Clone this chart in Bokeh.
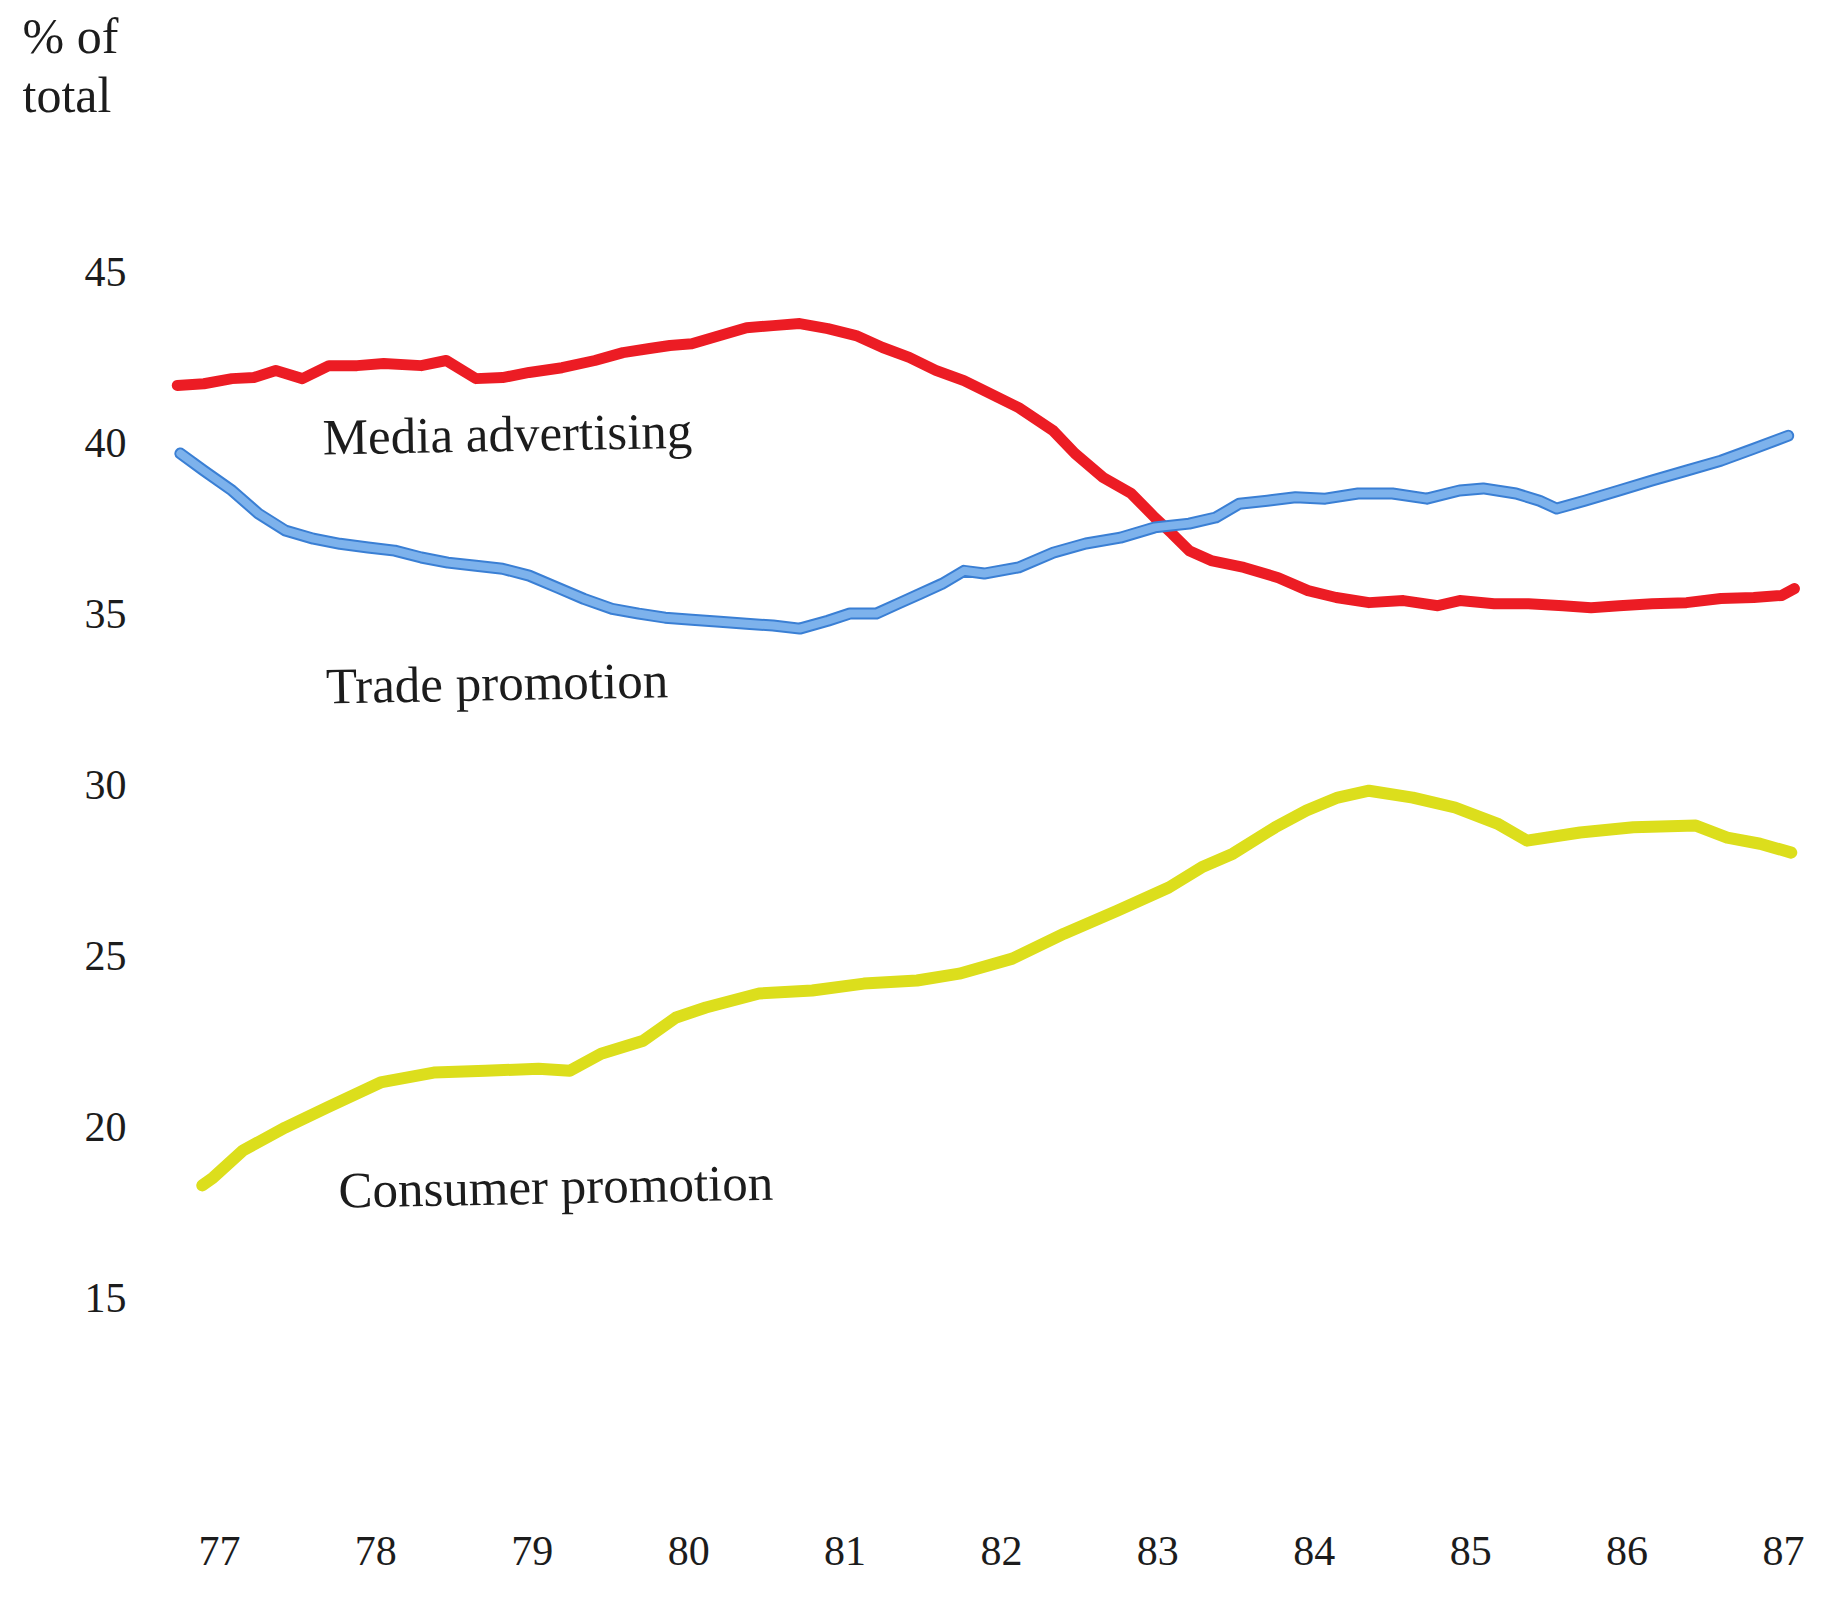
from bokeh.plotting import figure
from bokeh.models import FixedTicker, Title, Range1d
from bokeh.core.properties import value
from bokeh.embed import file_html
from bokeh.resources import INLINE

# ---------------- data ----------------
media_years = [76.73, 76.90, 77.08, 77.22, 77.36, 77.53, 77.70, 77.88, 78.05, 78.29,
               78.45, 78.64, 78.81, 78.98, 79.19, 79.40, 79.58, 79.75, 79.88, 80.02,
               80.20, 80.37, 80.54, 80.71, 80.89, 81.07, 81.24, 81.41, 81.58, 81.76,
               81.89, 82.11, 82.33, 82.47, 82.65, 82.83, 82.98, 83.09, 83.20, 83.34,
               83.55, 83.77, 83.96, 84.14, 84.35, 84.57, 84.79, 84.93, 85.15, 85.37,
               85.59, 85.77, 85.95, 86.16, 86.38, 86.60, 86.81, 86.99, 87.07]
media_pct = [41.69, 41.74, 41.89, 41.92, 42.13, 41.89, 42.27, 42.27, 42.33, 42.27,
             42.42, 41.89, 41.92, 42.07, 42.21, 42.42, 42.65, 42.77, 42.86, 42.91,
             43.15, 43.38, 43.44, 43.50, 43.35, 43.15, 42.80, 42.51, 42.13, 41.83,
             41.54, 41.04, 40.37, 39.70, 39.00, 38.53, 37.83, 37.36, 36.86, 36.57,
             36.37, 36.07, 35.69, 35.49, 35.34, 35.40, 35.25, 35.40, 35.31, 35.31,
             35.25, 35.19, 35.25, 35.31, 35.34, 35.46, 35.49, 35.55, 35.75]

trade_years = [76.75, 76.90, 77.08, 77.25, 77.42, 77.60, 77.77, 77.95, 78.12, 78.29,
               78.46, 78.64, 78.81, 78.98, 79.16, 79.33, 79.51, 79.68, 79.85, 80.02,
               80.20, 80.37, 80.54, 80.71, 80.89, 81.03, 81.20, 81.34, 81.48, 81.62,
               81.76, 81.89, 82.11, 82.33, 82.54, 82.76, 82.98, 83.20, 83.37, 83.52,
               83.70, 83.88, 84.07, 84.28, 84.50, 84.72, 84.93, 85.08, 85.29, 85.44,
               85.55, 85.73, 85.95, 86.16, 86.38, 86.60, 86.81, 87.03]
trade_pct = [39.70, 39.20, 38.62, 37.94, 37.45, 37.21, 37.06, 36.95, 36.86, 36.66,
             36.51, 36.42, 36.33, 36.13, 35.78, 35.45, 35.16, 35.02, 34.90, 34.84,
             34.78, 34.72, 34.67, 34.58, 34.81, 35.02, 35.02, 35.31, 35.60, 35.89,
             36.27, 36.19, 36.37, 36.80, 37.07, 37.24, 37.54, 37.65, 37.83, 38.23,
             38.32, 38.42, 38.38, 38.53, 38.53, 38.38, 38.62, 38.68, 38.53, 38.32,
             38.09, 38.32, 38.62, 38.91, 39.20, 39.49, 39.84, 40.22]

consumer_years = [76.89, 76.96, 77.15, 77.42, 77.69, 78.03, 78.37, 78.70, 79.04, 79.24,
                  79.44, 79.71, 79.92, 80.11, 80.45, 80.79, 81.12, 81.46, 81.73, 82.07,
                  82.40, 82.74, 83.07, 83.28, 83.48, 83.75, 83.95, 84.15, 84.35, 84.63,
                  84.90, 85.17, 85.36, 85.70, 86.04, 86.44, 86.64, 86.85, 87.05]
consumer_pct = [18.30, 18.53, 19.32, 19.99, 20.58, 21.31, 21.60, 21.65, 21.71, 21.65,
                22.15, 22.53, 23.21, 23.50, 23.91, 24.00, 24.20, 24.29, 24.49, 24.93,
                25.66, 26.33, 27.01, 27.60, 28.00, 28.77, 29.26, 29.64, 29.84, 29.64,
                29.35, 28.88, 28.38, 28.62, 28.77, 28.82, 28.47, 28.29, 28.03]

year_ticks = [77, 78, 79, 80, 81, 82, 83, 84, 85, 86, 87]
pct_ticks = [15, 20, 25, 30, 35, 40, 45]

series_names = ["Media advertising", "Trade promotion", "Consumer promotion"]

# ---------------- styling / layout ----------------
FONT = "Liberation Serif"
INK = "#1c1c1c"
RED = "#ec1c24"
BLUE_EDGE = "#3a7fd4"
BLUE_FILL = "#7db2ec"
YELLOW = "#dcde1c"

p = figure(width=1838, height=1599, output_backend="svg", toolbar_location=None,
           x_range=Range1d(76.559, 87.224), y_range=Range1d(12.01, 49.35),
           min_border_left=150, min_border_right=20, min_border_top=123,
           min_border_bottom=199, background_fill_color="white",
           border_fill_color="white")
p.outline_line_color = None
p.grid.visible = False

# unit caption: the figure's own title is the outer line, the added one sits nearer the frame
p.title.text = "% of"
p.title.text_font = FONT
p.title.text_font_size = "50px"
p.title.text_font_style = "normal"
p.title.text_color = INK
p.title.align = "left"
p.title.offset = -128
p.title.standoff = 0
p.add_layout(Title(text="total", text_font=FONT, text_font_size="50px",
                   text_font_style="normal", text_color=INK, align="left",
                   offset=-128, standoff=2), "above")

for ax in (p.xaxis[0], p.yaxis[0]):
    ax.axis_line_color = None
    ax.major_tick_line_color = None
    ax.minor_tick_line_color = None
    ax.major_tick_out = 0
    ax.major_tick_in = 0
    ax.minor_tick_out = 0
    ax.major_label_text_font = FONT
    ax.major_label_text_font_size = "42px"
    ax.major_label_text_color = INK

p.xaxis[0].ticker = FixedTicker(ticks=year_ticks)
p.xaxis[0].major_label_standoff = 136
p.yaxis[0].ticker = FixedTicker(ticks=pct_ticks)
p.yaxis[0].major_label_standoff = 24

# series
p.line(media_years, media_pct, line_color=RED, line_width=11,
       line_join="round", line_cap="round")
p.line(trade_years, trade_pct, line_color=BLUE_EDGE, line_width=12,
       line_join="round", line_cap="round")
p.line(trade_years, trade_pct, line_color=BLUE_FILL, line_width=8,
       line_join="round", line_cap="round")
p.line(consumer_years, consumer_pct, line_color=YELLOW, line_width=12,
       line_join="round", line_cap="round")

# series labels
label_x = [77.66, 77.68, 77.76]
label_y = [40.17, 32.89, 18.15]
p.text(x=label_x, y=label_y, text=series_names, text_font=value(FONT),
       text_font_size="51px", text_color=INK, text_baseline="middle",
       text_align="left", angle=0.018)

open("out.html", "w").write(file_html(p, INLINE))
